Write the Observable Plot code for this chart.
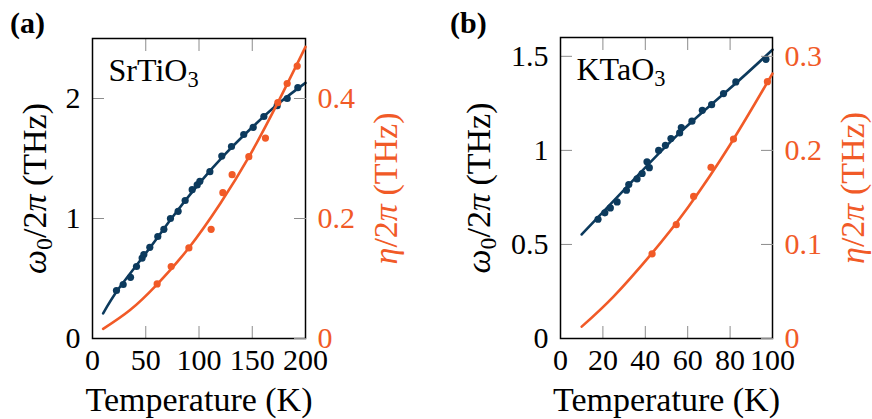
<!DOCTYPE html>
<html>
<head>
<meta charset="utf-8">
<script src="https://cdn.jsdelivr.net/npm/d3@7"></script>
<script src="https://cdn.jsdelivr.net/npm/@observablehq/plot@0.6"></script>
<style>
  body { margin: 0; background: #fff; }
  #wrap { position: relative; width: 872px; height: 419px; overflow: hidden; font-family: "Liberation Serif", serif; }
  #wrap svg text { font-family: "Liberation Serif", serif; }
  .layer { position: absolute; top: 0; }
  .tag { position: absolute; top: 8px; font-weight: bold; font-size: 30px; line-height: 30px; color: #000; }
</style>
</head>
<body>
<div id="wrap"></div>
<script>
const BLUE = "#0c3a5d";
const ORANGE = "#f15a27";
const GRAY = "#8c8c8c";

// ---------- Panel (a): SrTiO3 ----------
const aTempTicks = [0, 50, 100, 150, 200];
const aOmegaTicks = [0, 1, 2];
const aEtaTicks = [0, 0.2, 0.4];
const aOmegaDotT = [22.5, 28.8, 35.7, 41.3, 46.6, 48.2, 53.8, 61.3, 67, 73.2, 80.4, 87, 93.6, 98.3, 100.8, 110.2, 121.4, 130.5, 142, 150.9, 160.9, 173.4, 182.8, 192.8];
const aOmegaDotV = [0.40, 0.45, 0.51, 0.60, 0.67, 0.70, 0.76, 0.85, 0.91, 1.00, 1.06, 1.15, 1.24, 1.28, 1.31, 1.39, 1.52, 1.60, 1.70, 1.76, 1.85, 1.94, 2.00, 2.09];
const aOmegaFitT = [10, 25, 50, 75, 100, 125, 150, 175, 200];
const aOmegaFitV = [0.21, 0.42, 0.71, 1.01, 1.29, 1.54, 1.76, 1.96, 2.13];
const aEtaDotT = [60.7, 73.9, 90.5, 111.4, 122.4, 131.1, 146.8, 162.4, 174, 182.8, 192.2];
const aEtaDotV = [0.091, 0.120, 0.151, 0.182, 0.243, 0.273, 0.303, 0.334, 0.393, 0.425, 0.454];
const aEtaFitT = [10, 35, 60, 90, 120, 147, 174, 200];
const aEtaFitV = [0.016, 0.047, 0.089, 0.150, 0.225, 0.303, 0.393, 0.486];

// ---------- Panel (b): KTaO3 ----------
const bTempTicks = [0, 20, 40, 60, 80, 100];
const bOmegaTicks = [0, 0.5, 1, 1.5];
const bEtaTicks = [0, 0.1, 0.2, 0.3];
const bOmegaDotT = [17.7, 20.9, 23.5, 26.7, 31.1, 32.2, 36.1, 38.5, 40.8, 41.9, 46.3, 49.5, 52.1, 56.2, 57, 62, 66.9, 71.3, 76.9, 82.7, 96.9];
const bOmegaDotV = [0.634, 0.668, 0.694, 0.726, 0.788, 0.818, 0.848, 0.877, 0.939, 0.908, 1.0, 1.027, 1.063, 1.093, 1.121, 1.155, 1.213, 1.243, 1.302, 1.364, 1.484];
const bOmegaFitT = [10, 30, 55, 80, 100];
const bOmegaFitV = [0.553, 0.79, 1.08, 1.33, 1.535];
const bEtaDotT = [43.2, 54.6, 62.8, 71, 81.6, 97.6];
const bEtaDotV = [0.090, 0.121, 0.151, 0.182, 0.212, 0.273];
const bEtaFitT = [10, 25, 43, 60, 80, 100];
const bEtaFitV = [0.0126, 0.0446, 0.0903, 0.139, 0.206, 0.2816];

const OMEGA_LABEL = "ω0/2π (THz)";
const ETA_LABEL = "η/2π (THz)";
const X_LABEL = "Temperature (K)";

const zip = (xs, ys) => xs.map((x, i) => ({x, y: ys[i]}));
const fmt = d => String(d);
const FONT = "Liberation Serif";

function richLabel(svg, plain, parts, size) {
  const ns = "http://www.w3.org/2000/svg";
  svg.querySelectorAll("text").forEach(t => {
    if (t.textContent !== plain) return;
    if (size) t.setAttribute("font-size", size);
    while (t.firstChild) t.removeChild(t.firstChild);
    for (const p of parts) {
      const s = document.createElementNS(ns, "tspan");
      s.textContent = p.t;
      if (p.i) s.setAttribute("font-style", "italic");
      if (p.sub) { s.setAttribute("font-size", "0.7em"); s.setAttribute("dy", "6"); }
      if (p.up) s.setAttribute("dy", "-6");
      t.appendChild(s);
    }
  });
}

function panel(cfg) {
  const common = {
    width: 436, height: 419,
    marginLeft: cfg.ml, marginRight: cfg.mr, marginTop: cfg.mt, marginBottom: 81,
    style: {fontFamily: FONT, fontSize: "30px", background: "transparent", color: "#000", overflow: "visible"}
  };
  const base = Plot.plot({
    ...common,
    x: {domain: cfg.xDomain},
    y: {domain: cfg.yDomain},
    marks: [
      Plot.axisX({anchor: "bottom", ticks: cfg.xTicks, tickFormat: fmt, tickSize: 0, tickPadding: 10, fontFamily: FONT, fontSize: 30,
        label: X_LABEL, labelAnchor: "center", labelArrow: "none", labelOffset: 72, fill: "#000"}),
      Plot.axisX({anchor: "bottom", ticks: cfg.xTicks, tickSize: -12, text: null, label: null, stroke: GRAY}),
      Plot.axisX({anchor: "top", ticks: cfg.xTicks, tickSize: -12, text: null, label: null, stroke: GRAY}),
      Plot.axisY({anchor: "left", ticks: cfg.yTicks, tickFormat: fmt, tickSize: 0, tickPadding: 12, fontFamily: FONT, fontSize: 30,
        label: OMEGA_LABEL, labelAnchor: "center", labelArrow: "none", labelOffset: cfg.yLabelOffset, fill: "#000"}),
      Plot.axisY({anchor: "left", ticks: cfg.yTicks, tickSize: -12, text: null, label: null, stroke: GRAY}),
      Plot.line(zip(cfg.wFitT, cfg.wFitV), {x: "x", y: "y", stroke: BLUE, strokeWidth: 2.6, curve: "natural"}),
      Plot.dot(zip(cfg.wDotT, cfg.wDotV), {x: "x", y: "y", r: 3.6, fill: BLUE, stroke: "none"}),
      Plot.text([cfg.name], {frameAnchor: "top-left", dx: 16, dy: 20, textAnchor: "start", lineAnchor: "top", fontSize: 32, fontFamily: FONT, fill: "#000"}),
      Plot.frame({stroke: "#000", strokeWidth: 1.5})
    ]
  });
  const over = Plot.plot({
    ...common,
    x: {domain: cfg.xDomain, axis: null},
    y: {domain: cfg.eDomain},
    marks: [
      Plot.axisY({anchor: "right", ticks: cfg.eTicks, tickFormat: fmt, tickSize: 0, tickPadding: 12, fontFamily: FONT, fontSize: 30,
        label: ETA_LABEL, labelAnchor: "center", labelArrow: "none", labelOffset: cfg.eLabelOffset, fill: ORANGE}),
      Plot.axisY({anchor: "right", ticks: cfg.eTicks, tickSize: -12, text: null, label: null, stroke: GRAY}),
      Plot.line(zip(cfg.eFitT, cfg.eFitV), {x: "x", y: "y", stroke: ORANGE, strokeWidth: 2.6, curve: "natural"}),
      Plot.dot(zip(cfg.eDotT, cfg.eDotV), {x: "x", y: "y", r: 3.6, fill: ORANGE, stroke: "none"})
    ]
  });
  richLabel(base, X_LABEL, [{t: X_LABEL}], 34);
  richLabel(base, OMEGA_LABEL, [{t: "ω", i: true}, {t: "0", sub: true}, {t: "/2", up: true}, {t: "π", i: true}, {t: " (THz)"}], 34);
  richLabel(over, ETA_LABEL, [{t: "η", i: true}, {t: "/2"}, {t: "π", i: true}, {t: " (THz)"}], 34);
  richLabel(base, cfg.name, [{t: cfg.name.slice(0, -1)}, {t: cfg.name.slice(-1), sub: true}]);
  return [base, over];
}

const wrap = document.getElementById("wrap");
const panels = [
  {left: 0, tag: "(a)", tagLeft: 10, name: "SrTiO3", ml: 92, mr: 131, mt: 38, yLabelOffset: 71, eLabelOffset: 91,
   xDomain: [0, 200], xTicks: aTempTicks, yDomain: [0, 2.5], yTicks: aOmegaTicks, eDomain: [0, 0.5], eTicks: aEtaTicks,
   wDotT: aOmegaDotT, wDotV: aOmegaDotV, wFitT: aOmegaFitT, wFitV: aOmegaFitV,
   eDotT: aEtaDotT, eDotV: aEtaDotV, eFitT: aEtaFitT, eFitV: aEtaFitV},
  {left: 436, tag: "(b)", tagLeft: 450, name: "KTaO3", ml: 124, mr: 100, mt: 37, yLabelOffset: 95, eLabelOffset: 91,
   xDomain: [0, 100], xTicks: bTempTicks, yDomain: [0, 1.6], yTicks: bOmegaTicks, eDomain: [0, 0.32], eTicks: bEtaTicks,
   wDotT: bOmegaDotT, wDotV: bOmegaDotV, wFitT: bOmegaFitT, wFitV: bOmegaFitV,
   eDotT: bEtaDotT, eDotV: bEtaDotV, eFitT: bEtaFitT, eFitV: bEtaFitV}
];
for (const p of panels) {
  const [base, over] = panel(p);
  for (const svg of [base, over]) {
    svg.classList.add("layer");
    svg.style.left = p.left + "px";
    wrap.appendChild(svg);
  }
  const tag = document.createElement("div");
  tag.className = "tag";
  tag.style.left = p.tagLeft + "px";
  tag.textContent = p.tag;
  wrap.appendChild(tag);
}
</script>
</body>
</html>
